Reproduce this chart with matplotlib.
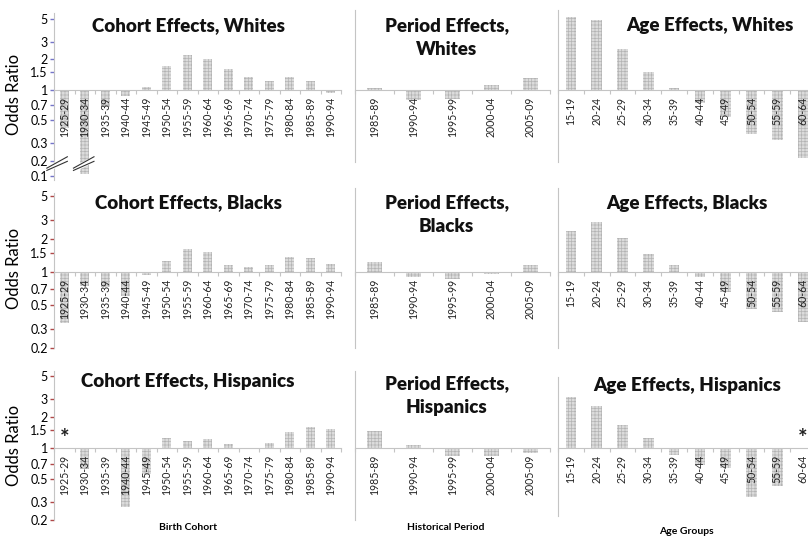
import numpy as np
import matplotlib.pyplot as plt
from matplotlib.ticker import FixedLocator, NullLocator, FixedFormatter

plt.rcParams['font.family'] = ['Lato', 'DejaVu Sans']
plt.rcParams['hatch.linewidth'] = 0.5

# category labels
cohorts = ['1925-29', '1930-34', '1935-39', '1940-44', '1945-49', '1950-54', '1955-59',
           '1960-64', '1965-69', '1970-74', '1975-79', '1980-84', '1985-89', '1990-94']
periods = ['1985-89', '1990-94', '1995-99', '2000-04', '2005-09']
ages = ['15-19', '20-24', '25-29', '30-34', '35-39', '40-44', '45-49', '50-54', '55-59', '60-64']

# odds ratios (nan = not estimated, marked with *)
cohort_whites = [0.42, 0.11, 0.68, 0.86, 1.06, 1.71, 2.23, 2.01, 1.62, 1.35, 1.23, 1.33, 1.22, 0.93]
period_whites = [1.05, 0.80, 0.81, 1.11, 1.32]
age_whites = [5.2, 4.94, 2.52, 1.49, 1.05, 0.74, 0.54, 0.37, 0.32, 0.21]

cohort_blacks = [0.34, 0.74, 0.72, 0.60, 0.93, 1.25, 1.64, 1.51, 1.15, 1.10, 1.16, 1.36, 1.33, 1.19]
period_blacks = [1.23, 0.90, 0.86, 0.96, 1.16]
age_blacks = [2.39, 2.9, 2.04, 1.47, 1.16, 0.89, 0.65, 0.46, 0.43, 0.345]

cohort_hisp = [np.nan, 0.63, 1.0, 0.27, 0.56, 1.25, 1.18, 1.21, 1.085, 1.0, 1.11, 1.43, 1.61, 1.54]
period_hisp = [1.45, 1.08, 0.83, 0.84, 0.89]
age_hisp = [3.1, 2.57, 1.69, 1.25, 0.86, 0.69, 0.64, 0.335, 0.43, np.nan]

W, H = 808, 541
fig = plt.figure(figsize=(W / 100, H / 100), dpi=100)


def rect(x0, x1, y0, y1):
    return [x0 / W, 1 - y1 / H, (x1 - x0) / W, (y1 - y0) / H]


def px(x, y):
    return x / W, 1 - y / H


# broken log axis for the first row: below 0.2 the scale is squeezed
C = 0.503
B = np.log10(0.2)


def fwd(y):
    ly = np.log10(np.clip(y, 1e-6, None))
    return np.where(ly >= B, ly, B - C * (B - ly))


def inv(z):
    z = np.asarray(z, dtype=float)
    return np.where(z >= B, 10 ** z, 10 ** (B - (B - z) / C))


cols = [(54, 341), (355, 550), (558, 816)]
rows = [(9.6, 180, 0.083, 6.2), (188, 348, 0.2, 5.9), (370, 520, 0.2, 5.72)]
tick_col = ['#7575c8', '#b04848', '#b04848']
grey = '#c4c4c4'
bar_w = [0.42, 0.38, 0.41]

data = [
    [cohort_whites, period_whites, age_whites],
    [cohort_blacks, period_blacks, age_blacks],
    [cohort_hisp, period_hisp, age_hisp],
]
cats = [cohorts, periods, ages]
spine_top = [[5.73, 6.2, 6.2], [5.3, 5.9, 5.9], [5.6, 5.6, 4.9]]
spine_bot = [[0.083, 0.19, 0.19], [0.2, 0.2, 0.2], [0.2, 0.2, 0.22]]

axes = []
for r, (y0, y1, lo, hi) in enumerate(rows):
    row_axes = []
    for c, (x0, x1) in enumerate(cols):
        ax = fig.add_axes(rect(x0, x1, y0, y1))
        ax.patch.set_alpha(0)
        if r == 0:
            ax.set_yscale('function', functions=(fwd, inv))
        else:
            ax.set_yscale('log')
        n = len(cats[c])
        x = np.arange(n)
        vals = np.array(data[r][c], dtype=float)
        ok = ~np.isnan(vals)
        ax.bar(x[ok], vals[ok] - 1, bottom=1, width=bar_w[c], color='#dcdcdc',
               edgecolor='#b4b4b4', linewidth=0, hatch='+++++', zorder=1)
        ax.set_xlim(-0.5, n - 0.5)
        ax.set_ylim(lo, hi)

        # category axis sits on OR = 1
        for s in ['top', 'right']:
            ax.spines[s].set_visible(False)
        ax.spines['bottom'].set_position(('data', 1))
        ax.spines['bottom'].set_color(grey)
        ax.spines['bottom'].set_zorder(3)
        ax.spines['left'].set_color(grey)
        ax.spines['left'].set_bounds(spine_bot[r][c], spine_top[r][c])
        ax.xaxis.set_major_locator(FixedLocator(x))
        ax.xaxis.set_major_formatter(FixedFormatter(cats[c]))
        ax.xaxis.set_minor_locator(FixedLocator(np.arange(n + 1) - 0.5))
        ax.tick_params(axis='x', which='major', length=0, pad=5, labelsize=7.6,
                       labelrotation=90, labelcolor='#222222')
        ax.tick_params(axis='x', which='minor', length=3, color=grey, width=0.8)

        if c == 0:
            yt = [0.2, 0.3, 0.5, 0.7, 1, 1.5, 2, 3, 5]
            if r == 0:
                yt = [0.1] + yt
            ax.yaxis.set_major_locator(FixedLocator(yt))
            ax.yaxis.set_major_formatter(FixedFormatter([f'{v:g}' for v in yt]))
            ax.yaxis.set_minor_locator(NullLocator())
            ax.tick_params(axis='y', length=3, width=1, color=tick_col[r],
                           labelsize=9, pad=1.5, direction='out')
            ax.set_ylabel('Odds Ratio', fontsize=12, labelpad=6)
        else:
            ax.yaxis.set_minor_locator(NullLocator())
            ax.tick_params(axis='y', left=False, labelleft=False)
        row_axes.append(ax)
    axes.append(row_axes)

# panel titles
title_kw = dict(fontsize=13.5, fontweight='heavy', ha='center', va='center', color='#111111')
fig.text(*px(188.5, 26), 'Cohort Effects, Whites', **title_kw)
fig.text(*px(446.7, 37.5), 'Period Effects,\nWhites', linespacing=1.5, **title_kw)
fig.text(*px(710, 26), 'Age Effects, Whites', **title_kw)
fig.text(*px(188.5, 203), 'Cohort Effects, Blacks', **title_kw)
fig.text(*px(446.7, 215), 'Period Effects,\nBlacks', linespacing=1.5, **title_kw)
fig.text(*px(686.7, 203), 'Age Effects, Blacks', **title_kw)
fig.text(*px(188, 382), 'Cohort Effects, Hispanics', **title_kw)
fig.text(*px(446.7, 396), 'Period Effects,\nHispanics', linespacing=1.5, **title_kw)
fig.text(*px(686.7, 386), 'Age Effects, Hispanics', **title_kw)

# axis captions under the bottom row
cap_kw = dict(fontsize=7.5, fontweight='bold', ha='center', va='center')
fig.text(*px(188, 527), 'Birth Cohort', **cap_kw)
fig.text(*px(446, 527), 'Historical Period', **cap_kw)
fig.text(*px(686, 531), 'Age Groups', **cap_kw)

# asterisks where no estimate is shown
for c, vals in [(0, cohort_hisp), (2, age_hisp)]:
    for i, v in enumerate(vals):
        if np.isnan(v):
            axes[2][c].text(i, 1.25, '*', ha='center', va='center', fontsize=16,
                            fontweight='bold', color='#222222')

# axis-break marks on the first cohort panel
ax = axes[0][0]
for xs in [(-0.85, 0.15), (0.45, 1.45)]:
    xx = np.array(xs)
    ax.plot(xx, [0.135, 0.205], color='white', lw=4, solid_capstyle='butt',
            zorder=4, clip_on=False)
    ax.plot(xx, [0.128, 0.193], color='#333333', lw=0.8, zorder=5, clip_on=False)
    ax.plot(xx, [0.142, 0.218], color='#333333', lw=0.8, zorder=5, clip_on=False)

fig.savefig('out.png', dpi=100)
